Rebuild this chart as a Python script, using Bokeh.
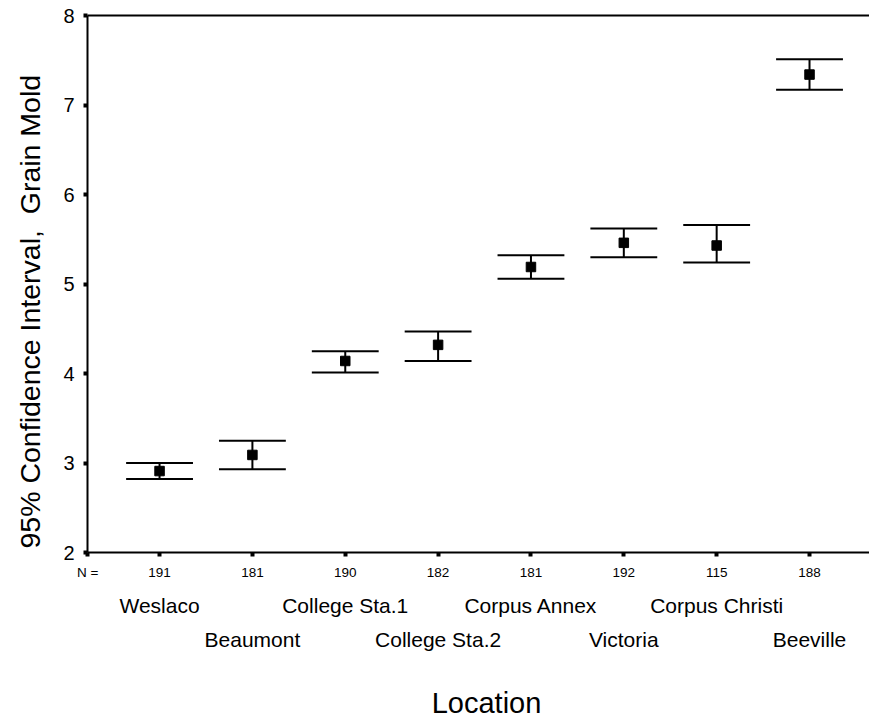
from bokeh.plotting import figure
from bokeh.models import Range1d, LinearAxis, FixedTicker, ColumnDataSource
from bokeh.embed import file_html
from bokeh.resources import INLINE

# Grain mold score by location: mean with 95% confidence interval
locations = ["Weslaco", "Beaumont", "College Sta.1", "College Sta.2",
             "Corpus Annex", "Victoria", "Corpus Christi", "Beeville"]
n_obs = [191, 181, 190, 182, 181, 192, 115, 188]
means = [2.91, 3.09, 4.14, 4.32, 5.19, 5.46, 5.43, 7.34]
ci_low = [2.82, 2.93, 4.01, 4.14, 5.06, 5.30, 5.24, 7.17]
ci_high = [3.00, 3.25, 4.25, 4.47, 5.32, 5.62, 5.66, 7.51]
y_ticks = [2, 3, 4, 5, 6, 7, 8]

FONT = "Liberation Sans"
CAP_HALF = 0.36
NB = "\u00a0"

pos = list(range(len(locations)))
src = ColumnDataSource(dict(
    x=pos,
    x0=[p - CAP_HALF for p in pos],
    x1=[p + CAP_HALF for p in pos],
    mean=means, lo=ci_low, hi=ci_high,
))

p = figure(width=869, height=721, output_backend="svg", toolbar_location=None,
           x_range=Range1d(-0.776, 7.646), y_range=Range1d(2, 8),
           min_border_left=87, min_border_right=0, min_border_top=15,
           min_border_bottom=169, x_axis_type=None, y_axis_type=None)
p.outline_line_color = None
p.xgrid.visible = False
p.ygrid.visible = False
p.background_fill_color = "white"
p.border_fill_color = "white"

# error bars: vertical stem, two caps, square at the mean
p.segment(x0="x", y0="lo", x1="x", y1="hi", source=src, line_color="black", line_width=2)
p.segment(x0="x0", y0="hi", x1="x1", y1="hi", source=src, line_color="black", line_width=2)
p.segment(x0="x0", y0="lo", x1="x1", y1="lo", source=src, line_color="black", line_width=2)
p.scatter(x="x", y="mean", source=src, marker="square", size=9.5,
          fill_color="black", line_color="black")

# left axis; trailing padding sets the title a little below the frame centre
yax = LinearAxis(ticker=FixedTicker(ticks=y_ticks),
                 axis_label="95% Confidence Interval," + NB + " Grain Mold" + NB * 7)
yax.axis_line_width = 2
yax.axis_line_color = "black"
yax.major_tick_line_width = 4
yax.major_tick_out = 4
yax.major_tick_in = 0
yax.minor_tick_line_color = None
yax.major_label_text_font = FONT
yax.major_label_text_font_size = "20px"
yax.major_label_text_color = "black"
yax.major_label_standoff = 9
yax.axis_label_text_font = FONT
yax.axis_label_text_font_size = "28.5px"
yax.axis_label_text_font_style = "normal"
yax.axis_label_text_color = "black"
yax.axis_label_standoff = 14
p.add_layout(yax, "left")

# top border line
top = LinearAxis(ticker=FixedTicker(ticks=[]))
top.axis_line_width = 2
top.axis_line_color = "black"
top.major_tick_line_color = None
top.minor_tick_line_color = None
top.major_label_text_font_size = "0px"
p.add_layout(top, "above")

# bottom axis with group sizes
nax = LinearAxis(ticker=FixedTicker(ticks=[-0.775] + pos))
nax.major_label_overrides = {-0.775: "N ="} | {i: str(v) for i, v in zip(pos, n_obs)}
nax.axis_line_width = 2
nax.axis_line_color = "black"
nax.major_tick_line_width = 4
nax.major_tick_out = 4
nax.major_tick_in = 0
nax.minor_tick_line_color = None
nax.major_label_text_font = FONT
nax.major_label_text_font_size = "13.5px"
nax.major_label_text_color = "black"
nax.major_label_standoff = 8
p.add_layout(nax, "below")

# location names on two staggered rows
def name_row(ticks, standoff, label=None):
    ax = LinearAxis(ticker=FixedTicker(ticks=ticks))
    ax.major_label_overrides = {i: locations[i] for i in ticks}
    ax.axis_line_color = None
    ax.major_tick_line_color = None
    ax.minor_tick_line_color = None
    ax.major_tick_out = 0
    ax.major_tick_in = 0
    ax.major_label_text_font = FONT
    ax.major_label_text_font_size = "21px"
    ax.major_label_text_color = "black"
    ax.major_label_standoff = standoff
    if label:
        ax.axis_label = label
        ax.axis_label_text_font = FONT
        ax.axis_label_text_font_size = "29px"
        ax.axis_label_text_font_style = "normal"
        ax.axis_label_text_color = "black"
        ax.axis_label_standoff = 33
    return ax

p.add_layout(name_row(pos[0::2], 11), "below")
p.add_layout(name_row(pos[1::2], 8, NB * 2 + "Location"), "below")

open("out.html", "w").write(file_html(p, INLINE))
